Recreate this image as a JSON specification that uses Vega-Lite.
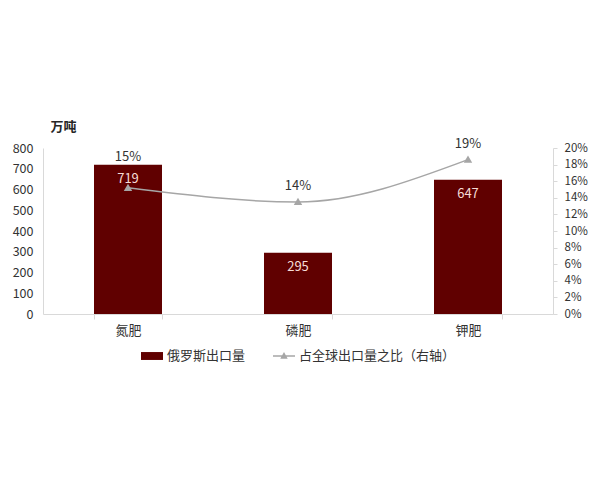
{
  "$schema": "https://vega.github.io/schema/vega-lite/v6.json",
  "autosize": {"type": "none"},
  "width": 510,
  "height": 166,
  "padding": {"left": 43, "top": 148, "right": 47, "bottom": 166},
  "background": "white",
  "config": {
    "view": {"stroke": null},
    "font": "Noto Sans CJK SC",
    "axis": {"labelFont": "Noto Sans CJK SC", "labelFontSize": 13, "labelColor": "#333333", "grid": false, "domainColor": "#d9d9d9", "tickColor": "#d9d9d9", "labelOverlap": false},
    "legend": {"labelFont": "Noto Sans CJK SC", "labelFontSize": 13, "labelColor": "#333333"}
  },
  "data": {
    "values": [
      {"cat": "氮肥", "vol": 719, "pct": 15.2, "pctLabel": "15%"},
      {"cat": "磷肥", "vol": 295, "pct": 13.5, "pctLabel": "14%"},
      {"cat": "钾肥", "vol": 647, "pct": 18.6, "pctLabel": "19%"}
    ]
  },
  "encoding": {
    "x": {
      "field": "cat", "type": "nominal", "sort": null,
      "scale": {"paddingInner": 0.6, "paddingOuter": 0.3},
      "axis": {"title": null, "labelAngle": 0, "tickBand": "extent", "tickSize": 5, "labelPadding": 5, "labelFontSize": 13}
    }
  },
  "layer": [
    {
      "layer": [
        {
          "mark": {"type": "bar"},
          "encoding": {
            "y": {"field": "vol", "type": "quantitative", "scale": {"domain": [0, 800]},
              "axis": {"values": [0,100,200,300,400,500,600,700,800], "tickCount": 9, "labelOverlap": false, "labelFontSize": 12.5, "ticks": false, "labelPadding": 10, "title": "万吨", "titleAngle": 0, "titleX": 20, "titleY": -22, "titleAlign": "center", "titleBaseline": "middle", "titleFontSize": 13, "titleFont": "Noto Sans CJK SC", "titleColor": "#262626", "titleFontWeight": "bold"}},
            "fill": {"datum": "俄罗斯出口量", "type": "nominal",
              "scale": {"range": ["#600000"]},
              "legend": {"title": null, "orient": "none", "legendX": 97, "legendY": 196, "direction": "horizontal", "symbolType": "M-1,-0.36H1V0.36H-1Z", "symbolSize": 484, "padding": 0, "labelOffset": 3}}
          }
        },
        {
          "mark": {"type": "text", "baseline": "top", "dy": 8, "fontSize": 13, "color": "#f6dcd6", "font": "Noto Sans CJK SC"},
          "encoding": {
            "y": {"field": "vol", "type": "quantitative"},
            "text": {"field": "vol", "type": "quantitative"}
          }
        }
      ]
    },
    {
      "layer": [
        {
          "mark": {"type": "line", "interpolate": "monotone", "strokeWidth": 1.5, "point": {"shape": "triangle-up", "size": 25, "filled": true, "color": "#a6a6a6"}},
          "encoding": {
            "y": {"field": "pct", "type": "quantitative", "scale": {"domain": [0, 20]},
              "axis": {"orient": "right", "values": [0,2,4,6,8,10,12,14,16,18,20], "tickCount": 11, "labelOverlap": false, "labelFontSize": 11.5, "labelExpr": "datum.value + '%'", "tickSize": 4, "labelPadding": 7, "title": null}},
            "stroke": {"datum": "占全球出口量之比（右轴）", "type": "nominal",
              "scale": {"range": ["#a6a6a6"]},
              "legend": {"title": null, "orient": "none", "legendX": 229, "legendY": 196, "direction": "horizontal", "symbolType": "M-1,0H1M-0.22,0.18L0,-0.22L0.22,0.18Z", "symbolSize": 484, "symbolFillColor": "#a6a6a6", "symbolStrokeWidth": 1.5, "padding": 0, "labelOffset": 3}}
          }
        },
        {
          "transform": [{"filter": "datum.cat === '氮肥'"}],
          "mark": {"type": "text", "baseline": "middle", "dy": -31, "fontSize": 13, "color": "#333333", "font": "Noto Sans CJK SC"},
          "encoding": {
            "y": {"field": "pct", "type": "quantitative"},
            "text": {"field": "pctLabel", "type": "nominal"}
          }
        },
        {
          "transform": [{"filter": "datum.cat !== '氮肥'"}],
          "mark": {"type": "text", "baseline": "middle", "dy": -16, "fontSize": 13, "color": "#333333", "font": "Noto Sans CJK SC"},
          "encoding": {
            "y": {"field": "pct", "type": "quantitative"},
            "text": {"field": "pctLabel", "type": "nominal"}
          }
        }
      ]
    }
  ],
  "resolve": {"scale": {"y": "independent", "fill": "independent", "stroke": "independent"}}
}
